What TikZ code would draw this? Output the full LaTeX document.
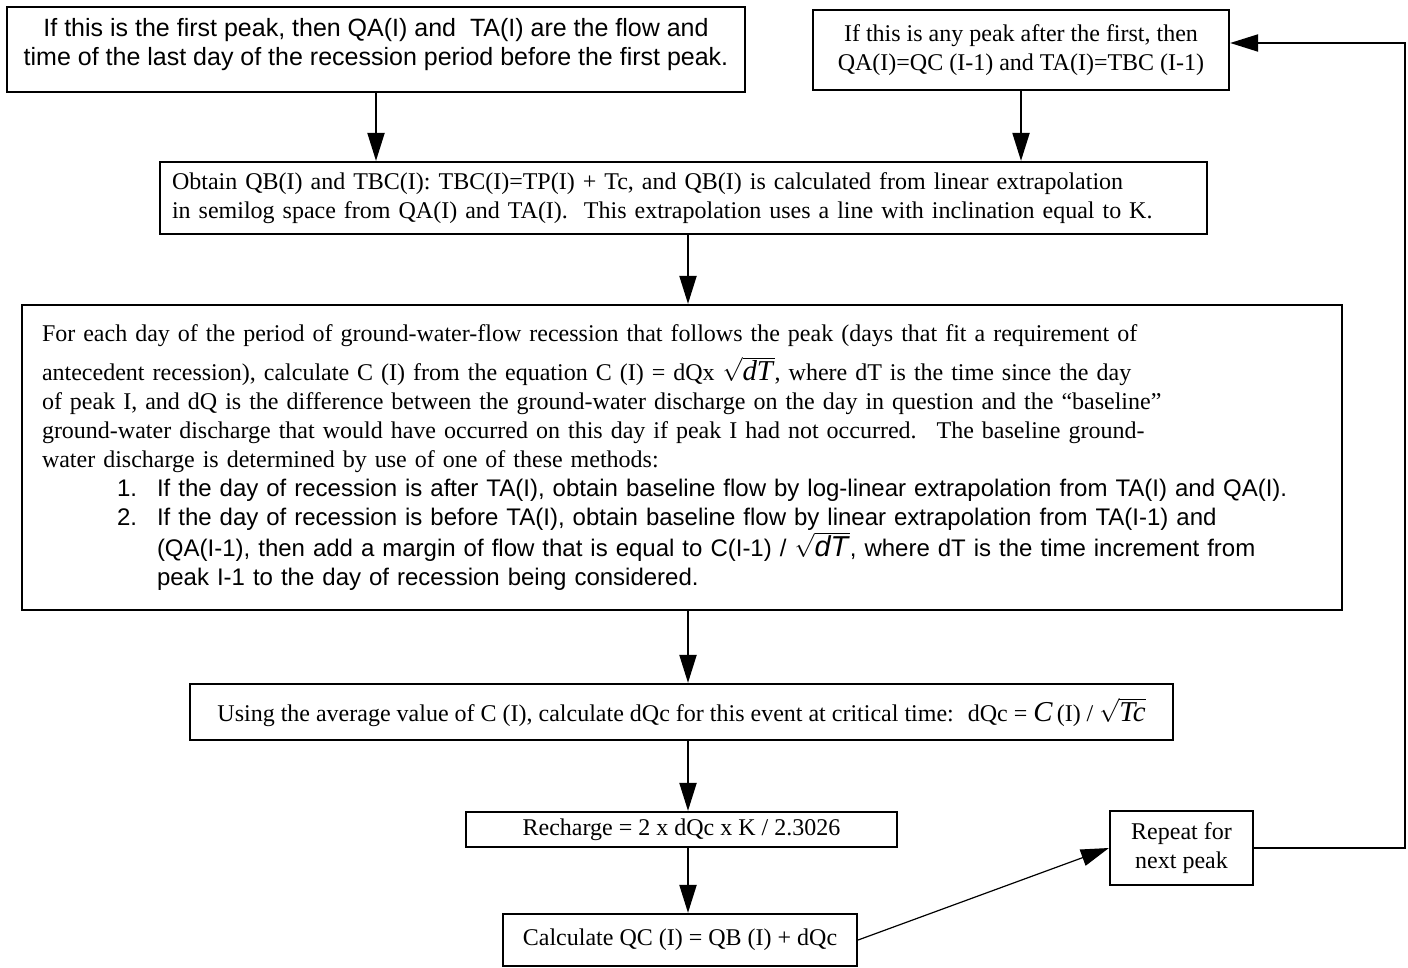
\documentclass[tikz,border=0pt]{standalone}
\usepackage{fontspec}
\setmainfont{Liberation Serif}
\setsansfont{Liberation Sans}
\usetikzlibrary{arrows.meta}

\begin{document}
\begin{tikzpicture}[x=0.5pt,y=-0.5pt,
  box/.style={draw,line width=1.1pt,inner sep=0pt,font=\fontsize{12}{14.5}\selectfont},
  flow/.style={line width=1pt,-{Triangle[length=14pt,width=8.5pt]}}]

\def\listIn{37.5pt}
\def\hangIn{57.5pt}

\useasboundingbox (0,0) rectangle (1408,968);

\node[box,minimum width=369pt,minimum height=42.5pt,align=center,
  font=\sffamily\fontsize{12.5}{14.5}\selectfont] (first) at (376,49.5)
  {If this is the first peak, then QA(I) and~ TA(I) are the flow and\\
   time of the last day of the recession period before the first peak.\\[-11pt]\strut};
\node[box,minimum width=208pt,minimum height=40pt,align=center] (later) at (1021,50)
  {If this is any peak after the first, then\\QA(I)=QC (I-1) and TA(I)=TBC (I-1)};
\node[box,minimum width=523.5pt,minimum height=36pt,inner xsep=6pt,
  text width=511.5pt,align=left] (obtain) at (683.5,198)
  {Obtain QB(I) and TBC(I): TBC(I)=TP(I) + Tc, and QB(I) is calculated from linear extrapolation\\
   in semilog space from QA(I) and TA(I).~ This extrapolation uses a line with inclination equal to K.};
\node[box,minimum height=152.5pt,inner xsep=10pt,text width=640pt,align=left] (days) at (682,457.5)
  {For each day of the period of ground-water-flow recession that follows the peak (days that fit a requirement of\\[5pt]
   antecedent recession), calculate C (I) from the equation C (I) = dQx $\sqrt{\mbox{\Large\textit{dT}}}$, where dT is the time since the day\\
   of peak I, and dQ is the difference between the ground-water discharge on the day in question and the “baseline”\\
   ground-water discharge that would have occurred on this day if peak I had not occurred.~ The baseline ground-\\
   water discharge is determined by use of one of these methods:\\
   \sffamily\hspace*{\listIn}1.~ If the day of recession is after TA(I), obtain baseline flow by log-linear extrapolation from TA(I) and QA(I).\\
   \hspace*{\listIn}2.~ If the day of recession is before TA(I), obtain baseline flow by linear extrapolation from TA(I-1) and\\
   \hspace*{\hangIn}(QA(I-1), then add a margin of flow that is equal to C(I-1) / $\sqrt{\mbox{\Large\textit{dT}}}$, where dT is the time increment from\\
   \hspace*{\hangIn}peak I-1 to the day of recession being considered.};
\node[box,minimum width=491.5pt,minimum height=28pt,align=center] (avg) at (681.5,712)
  {Using the average value of C (I), calculate dQc for this event at critical time:~ dQc = {\Large\textit{C}}\,(I) / $\sqrt{\mbox{\Large\textit{Tc}}}$};
\node[box,minimum width=215.5pt,minimum height=17.5pt,align=center] (recharge) at (681.5,829.5)
  {Recharge = 2 x dQc x K / 2.3026};
\node[box,minimum width=177pt,minimum height=26pt,align=center] (qc) at (680,940)
  {Calculate QC (I) = QB (I) + dQc};
\node[box,minimum width=71.5pt,minimum height=37pt,align=center] (repeat) at (1181.5,848)
  {Repeat for\\next peak};

\coordinate (spine) at (688,0);
\coordinate (loop) at (1405,43);

\draw[flow] (first.south) -- (first.south |- obtain.north);
\draw[flow] (later.south) -- (later.south |- obtain.north);
\draw[flow] (obtain.south -| spine) -- (days.north -| spine);
\draw[flow] (days.south -| spine) -- (avg.north -| spine);
\draw[flow] (avg.south -| spine) -- (recharge.north -| spine);
\draw[flow] (recharge.south -| spine) -- (qc.north -| spine);
\draw[flow,line width=0.6pt] (qc.east) -- (repeat.west);
\draw[flow] (repeat.east) -| (loop) -- (loop -| later.east);
\end{tikzpicture}
\end{document}
